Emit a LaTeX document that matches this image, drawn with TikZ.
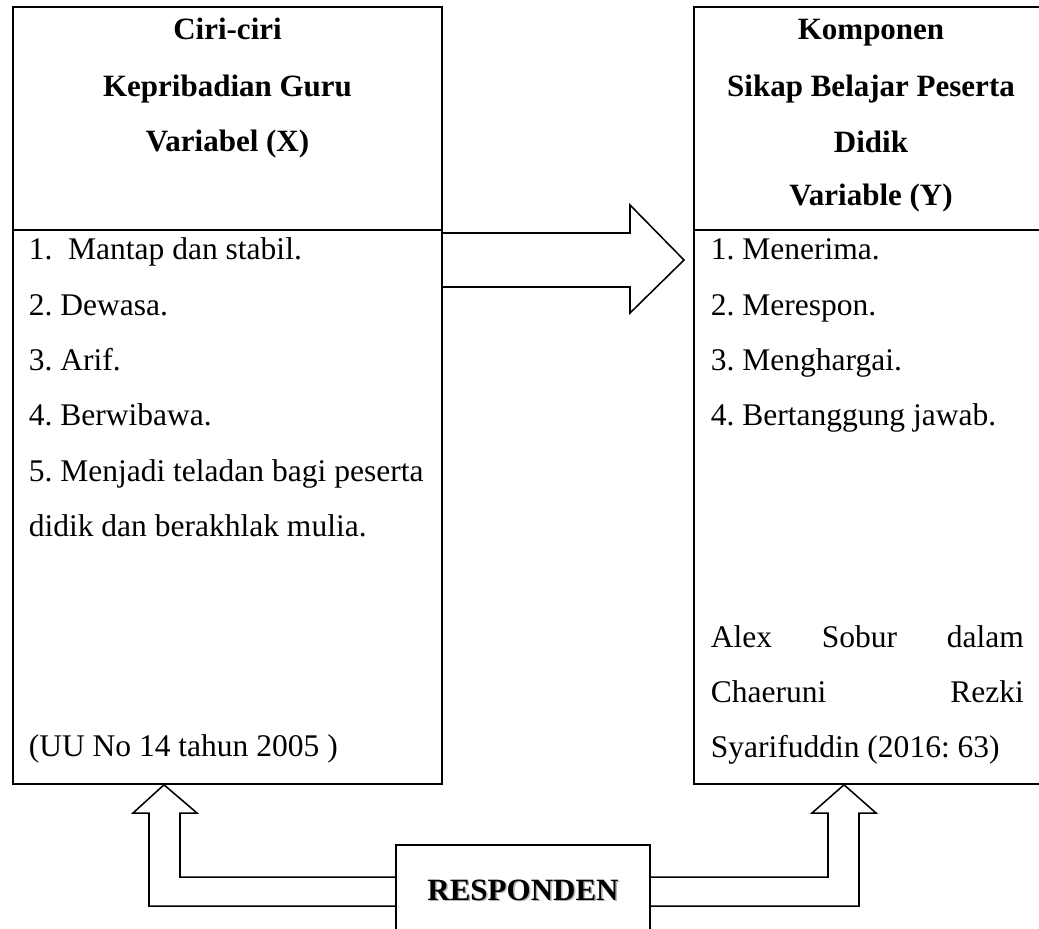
\documentclass[tikz,border=0pt]{standalone}
\usepackage{fontspec}
\setmainfont{Liberation Serif}
\usetikzlibrary{fit}
\frenchspacing
\begin{document}
\begin{tikzpicture}[x=0.3871pt,y=-0.3871pt,line join=miter,line width=0.6pt,
		font=\fontsize{12.2}{14}\selectfont,
		kotak/.style={draw,inner sep=0pt},
		judul/.style={font=\fontsize{12}{14}\selectfont\bfseries,inner sep=0pt,anchor=base},
		isi/.style={inner sep=0pt,anchor=base west}]
	\useasboundingbox (0,0) rectangle (1039,928);
	% kotak variabel dan responden
	\node[kotak,fit={(13,7) (442,784)}] (varX) {};
	\node[kotak,fit={(694,7) (1048,784)}] (varY) {};
	\node[kotak,fit={(396,845) (650,940)}] (resp) {};
	\draw (varX.west |- 0,230)--(varX.east |- 0,230);
	\draw (varY.west |- 0,230)--(varY.east |- 0,230);
	% panah
	\draw (varX.east |- 0,233)--(630,233)--(630,205)--(684,260)--(630,313)--(630,287)--(varX.east |- 0,287);
	\draw (resp.west |- 0,877)--(180,877)--(180,813)--(197,813)--(164,0 |- varX.south)--(133,813)--(149,813)--(149,906)--(resp.west |- 0,906);
	\draw (resp.east |- 0,877)--(828,877)--(828,813)--(812,813)--(844,0 |- varY.south)--(876,813)--(859,813)--(859,906)--(resp.east |- 0,906);
	% judul
	\node[judul] (x1) at (227.5,39) {Ciri-ciri};
	\node[judul] (x2) at (227.5,96) {Kepribadian Guru};
	\node[judul] (x3) at (227.5,151) {Variabel (X)};
	\node[judul] (y1) at (871,39) {Komponen};
	\node[judul] (y2) at (871,96) {Sikap Belajar Peserta};
	\node[judul] (y3) at (871,152) {Didik};
	\node[judul] (y4) at (871,205) {Variable (Y)};
	% isi kiri
	\node[isi] (a1) at (28,259) {1.\ \ Mantap dan stabil.};
	\node[isi] (a2) at (28,315) {2. Dewasa.};
	\node[isi] (a3) at (28,370) {3. Arif.};
	\node[isi] (a4) at (28,425) {4. Berwibawa.};
	\node[isi] (a5) at (28,481) {5. Menjadi teladan bagi peserta};
	\node[isi] (a6) at (28,536) {didik dan berakhlak mulia.};
	\node[isi] (sumberX) at (28,756) {(UU No 14 tahun 2005 )};
	% isi kanan
	\node[isi] (b1) at (710,259) {1. Menerima.};
	\node[isi] (b2) at (710,315) {2. Merespon.};
	\node[isi] (b3) at (710,370) {3. Menghargai.};
	\node[isi] (b4) at (710,425) {4. Bertanggung jawab.};
	\node[isi] (sumberY1) at (710,647) {\makebox[121.2pt][s]{Alex Sobur dalam}};
	\node[isi] (sumberY2) at (710,702) {\makebox[121.2pt][s]{Chaeruni Rezki}};
	\node[isi] (sumberY3) at (710,757) {Syarifuddin (2016: 63)};
	% responden
	\node[judul,text=black!30] (bayang) at (524.5,901.5) {RESPONDEN};
	\node[judul] (r) at (523,900) {RESPONDEN};
\end{tikzpicture}
\end{document}
